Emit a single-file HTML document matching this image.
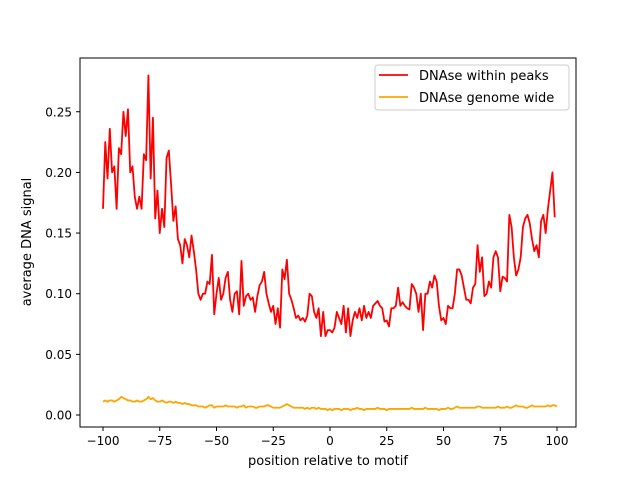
<!DOCTYPE html>
<html><head><meta charset="utf-8"><style>
body{margin:0;background:#fff}
svg{font-family:"DejaVu Sans","Liberation Sans",sans-serif}
</style></head><body>
<svg id="chart" width="640" height="480" viewBox="0 0 640 480">
<rect width="640" height="480" fill="#fff"/>
<g id="plot"></g>
<rect x="80" y="58" width="496" height="369" fill="none" stroke="#000" stroke-width="1"/>
<g id="axes"></g>
<text x="328" y="465" font-size="13" text-anchor="middle">position relative to motif</text>
<text transform="translate(31,242) rotate(-90)" font-size="13" text-anchor="middle">average DNA signal</text>
<g>
<rect x="375" y="65" width="194" height="45" rx="3" fill="#fff" stroke="#ccc"/>
<line x1="379" y1="75" x2="408" y2="75" stroke="red" stroke-width="1.8"/>
<text x="419" y="80" font-size="13">DNAse within peaks</text>
<line x1="379" y1="97" x2="408" y2="97" stroke="orange" stroke-width="1.8"/>
<text x="419" y="102" font-size="13">DNAse genome wide</text>
</g>
</svg>
<script>
const xTicks=[-100,-75,-50,-25,0,25,50,75,100];
const yTicks=[0,0.05,0.10,0.15,0.20,0.25];
const yTickLabels=["0.00","0.05","0.10","0.15","0.20","0.25"];
const peaks=[0.17,0.225,0.195,0.236,0.2,0.205,0.17,0.22,0.215,0.25,0.23,0.252,0.2,0.205,0.18,0.17,0.18,0.17,0.215,0.21,0.28,0.195,0.245,0.162,0.185,0.15,0.17,0.155,0.212,0.218,0.19,0.16,0.172,0.145,0.14,0.125,0.145,0.14,0.13,0.148,0.135,0.12,0.1,0.095,0.1,0.1,0.11,0.108,0.132,0.083,0.1,0.113,0.095,0.1,0.113,0.118,0.095,0.085,0.1,0.102,0.083,0.127,0.09,0.098,0.1,0.095,0.097,0.085,0.098,0.107,0.11,0.118,0.1,0.092,0.085,0.09,0.075,0.088,0.072,0.12,0.112,0.128,0.1,0.095,0.088,0.08,0.082,0.078,0.08,0.077,0.082,0.1,0.098,0.085,0.08,0.088,0.065,0.085,0.065,0.07,0.07,0.068,0.072,0.085,0.08,0.075,0.09,0.068,0.088,0.065,0.078,0.085,0.08,0.088,0.078,0.09,0.08,0.085,0.08,0.09,0.092,0.094,0.09,0.088,0.077,0.078,0.073,0.088,0.088,0.09,0.105,0.09,0.093,0.09,0.088,0.087,0.108,0.105,0.1,0.085,0.1,0.07,0.1,0.1,0.11,0.105,0.115,0.11,0.09,0.078,0.08,0.075,0.09,0.088,0.088,0.1,0.12,0.12,0.115,0.105,0.095,0.095,0.092,0.105,0.108,0.14,0.118,0.13,0.098,0.1,0.11,0.105,0.13,0.135,0.13,0.102,0.114,0.113,0.11,0.165,0.155,0.13,0.115,0.12,0.13,0.155,0.162,0.165,0.158,0.145,0.135,0.14,0.13,0.16,0.165,0.15,0.17,0.185,0.2,0.163];
const genome=[0.011,0.012,0.011,0.012,0.012,0.011,0.012,0.013,0.015,0.014,0.013,0.012,0.012,0.011,0.011,0.012,0.011,0.011,0.012,0.013,0.015,0.013,0.014,0.012,0.011,0.011,0.012,0.011,0.010,0.011,0.011,0.010,0.011,0.010,0.010,0.009,0.010,0.009,0.009,0.008,0.008,0.008,0.007,0.007,0.007,0.006,0.007,0.008,0.008,0.006,0.007,0.007,0.007,0.007,0.008,0.007,0.007,0.007,0.007,0.006,0.007,0.007,0.008,0.006,0.007,0.007,0.007,0.006,0.006,0.007,0.007,0.007,0.008,0.008,0.007,0.006,0.006,0.006,0.006,0.007,0.008,0.009,0.008,0.007,0.006,0.006,0.006,0.006,0.006,0.005,0.006,0.005,0.006,0.006,0.005,0.006,0.005,0.005,0.005,0.004,0.005,0.004,0.005,0.005,0.005,0.004,0.005,0.005,0.005,0.004,0.005,0.005,0.006,0.005,0.005,0.004,0.005,0.005,0.005,0.005,0.005,0.006,0.005,0.005,0.005,0.004,0.005,0.005,0.005,0.005,0.005,0.005,0.005,0.005,0.005,0.005,0.006,0.005,0.005,0.005,0.005,0.005,0.006,0.005,0.005,0.005,0.005,0.005,0.004,0.005,0.005,0.005,0.006,0.005,0.005,0.006,0.007,0.006,0.006,0.006,0.006,0.006,0.006,0.006,0.006,0.007,0.007,0.006,0.006,0.006,0.006,0.006,0.006,0.006,0.007,0.006,0.006,0.006,0.007,0.006,0.006,0.007,0.008,0.007,0.007,0.007,0.006,0.006,0.007,0.008,0.007,0.007,0.007,0.007,0.007,0.007,0.008,0.007,0.008,0.008,0.007];
const xStart=-100;
const NS="http://www.w3.org/2000/svg";
function sx(v){return 330+(v)*2.27;}
function sy(v){return 415-v*1213;}
const plot=document.getElementById('plot'), axes=document.getElementById('axes');
function line(arr,color,name){
  const p=document.createElementNS(NS,'polyline');
  p.setAttribute('points',arr.map((v,i)=>sx(xStart+i).toFixed(2)+','+sy(v).toFixed(2)).join(' '));
  p.setAttribute('fill','none');p.setAttribute('stroke',color);p.setAttribute('stroke-width','1.8');
  p.setAttribute('stroke-linejoin','round');
  
  
  plot.appendChild(p);
}
line(genome,'orange','series-genome-wide');
line(peaks,'red','series-within-peaks');
xTicks.forEach(t=>{
  const l=document.createElementNS(NS,'line');
  l.setAttribute('x1',sx(t));l.setAttribute('x2',sx(t));l.setAttribute('y1',427);l.setAttribute('y2',431);l.setAttribute('stroke','#000');
  
  
  axes.appendChild(l);
  const tx=document.createElementNS(NS,'text');
  tx.setAttribute('x',sx(t));tx.setAttribute('y',445);tx.setAttribute('font-size','12');tx.setAttribute('text-anchor','middle');
  tx.textContent=(t<0?'\u2212'+(-t):t);
  
  
  axes.appendChild(tx);
});
yTicks.forEach((t,i)=>{
  const l=document.createElementNS(NS,'line');
  l.setAttribute('x1',76);l.setAttribute('x2',80);l.setAttribute('y1',sy(t));l.setAttribute('y2',sy(t));l.setAttribute('stroke','#000');
  
  
  axes.appendChild(l);
  const tx=document.createElementNS(NS,'text');
  tx.setAttribute('x',72);tx.setAttribute('y',sy(t)+4.5);tx.setAttribute('font-size','12');tx.setAttribute('text-anchor','end');
  tx.textContent=yTickLabels[i];
  
  
  axes.appendChild(tx);
});
</script>
</body></html>
